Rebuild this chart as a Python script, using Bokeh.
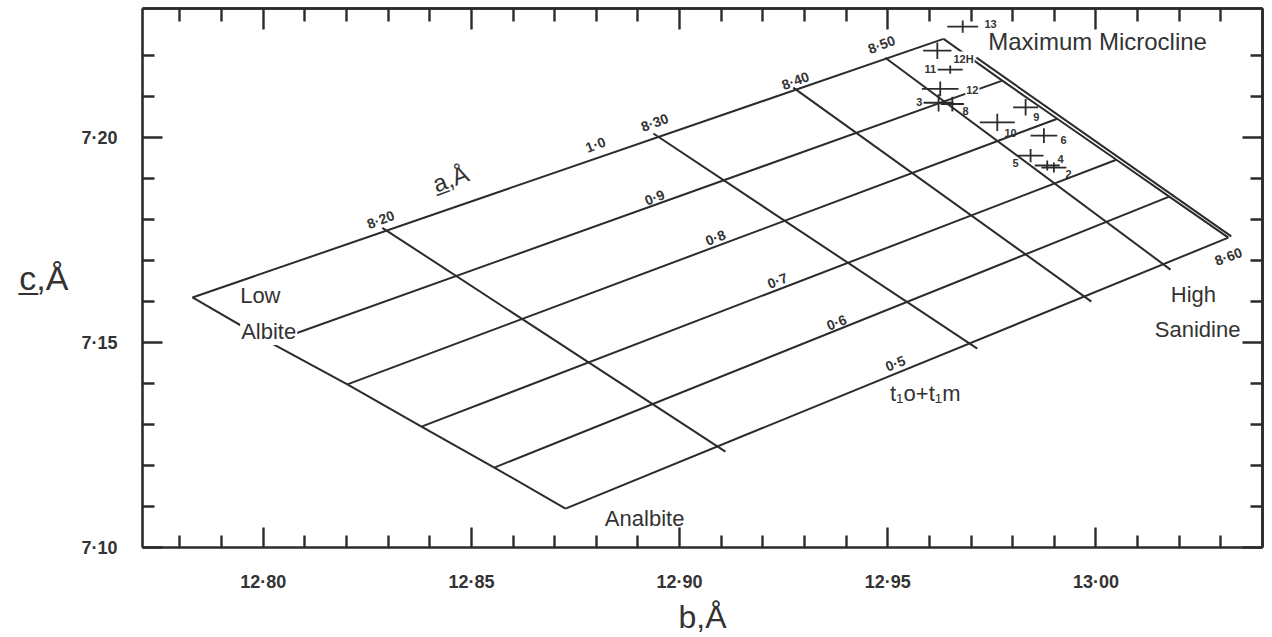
import numpy as np
from bokeh.plotting import figure
from bokeh.models import Range1d, LinearAxis, FixedTicker, Label
from bokeh.embed import file_html
from bokeh.resources import INLINE

# ---------------- axis ticks ----------------
b_major = [12.80, 12.85, 12.90, 12.95, 13.00]
b_major_text = ["12·80", "12·85", "12·90", "12·95", "13·00"]
b_minor = [12.78, 12.79, 12.81, 12.82, 12.83, 12.84, 12.86, 12.87, 12.88, 12.89,
           12.91, 12.92, 12.93, 12.94, 12.96, 12.97, 12.98, 12.99, 13.01, 13.02, 13.03]
c_major = [7.10, 7.15, 7.20]
c_major_text = ["7·10", "7·15", "7·20"]
c_minor = [7.11, 7.12, 7.13, 7.14, 7.16, 7.17, 7.18, 7.19, 7.21, 7.22]

# ---------------- lines of constant t1o+t1m (left edge -> right edge) ----------------
t_values = [1.0, 0.9, 0.8, 0.7, 0.6, 0.5]
t_b0 = [12.7830, 12.8017, 12.8202, 12.8380, 12.8555, 12.8726]
t_c0 = [7.1610, 7.1500, 7.1398, 7.1295, 7.1195, 7.1095]
t_b1 = [12.9634, 12.9775, 12.9907, 13.0049, 13.0176, 13.0318]
t_c1 = [7.2241, 7.2139, 7.2046, 7.1946, 7.1856, 7.1756]

# ---------------- lines of constant a (top -> bottom) ----------------
a_values = [8.20, 8.30, 8.40, 8.50, 8.60]
a_b0 = [12.8286, 12.8937, 12.9273, 12.9494, 12.9713]
a_c0 = [7.1780, 7.2010, 7.2122, 7.2195, 7.2195]
a_b1 = [12.9110, 12.9715, 12.9989, 13.0179, 13.0325]
a_c1 = [7.1234, 7.1485, 7.1600, 7.1678, 7.1759]

# ---------------- samples (b, c with errors) ----------------
sample = ["13", "12H", "11", "12", "3", "8", "9", "10", "6", "5", "4", "2"]
sample_b = [12.9680, 12.9619, 12.9650, 12.9626, 12.9622, 12.9655, 12.9831, 12.9763,
            12.9875, 12.9843, 12.9883, 12.9899]
sample_c = [7.2271, 7.2212, 7.2166, 7.2119, 7.2085, 7.2082, 7.2074, 7.2037,
            7.2005, 7.1956, 7.1932, 7.1927]
sample_b_err = [0.0037, 0.0034, 0.0030, 0.0044, 0.0036, 0.0028, 0.0030, 0.0042,
                0.0032, 0.0031, 0.0030, 0.0030]
sample_c_err = [0.0015, 0.0020, 0.0010, 0.0018, 0.0021, 0.0018, 0.0020, 0.0021,
                0.0018, 0.0016, 0.0012, 0.0012]

INK = "#2b2b2b"
TXT = "#333333"
FONT = "Liberation Sans"

p = figure(frame_width=1120, frame_height=539,
           x_range=Range1d(12.771, 13.040), y_range=Range1d(7.10, 7.2315),
           output_backend="svg", toolbar_location=None,
           min_border_left=142, min_border_right=4, min_border_top=8, min_border_bottom=86)
p.grid.visible = False
p.outline_line_color = None
p.background_fill_color = "white"
p.border_fill_color = "white"


def style(ax, ticks, minor, texts):
    ax.ticker = FixedTicker(ticks=ticks, minor_ticks=minor)
    ax.axis_line_width = 2.6
    ax.axis_line_color = INK
    ax.major_tick_in = 20
    ax.major_tick_out = 0
    ax.minor_tick_in = 12
    ax.minor_tick_out = 0
    ax.major_tick_line_width = 2.4
    ax.minor_tick_line_width = 2.4
    ax.major_tick_line_color = INK
    ax.minor_tick_line_color = INK
    ax.major_label_overrides = {v: t for v, t in zip(ticks, texts)}
    ax.major_label_text_font = FONT
    ax.major_label_text_font_style = "bold"
    ax.major_label_text_font_size = "18px"
    ax.major_label_text_color = TXT
    ax.axis_label_text_font = FONT
    ax.axis_label_text_font_style = "normal"
    ax.axis_label_text_font_size = "32px"
    ax.axis_label_text_color = TXT


xax = p.below[0]
yax = p.left[0]
style(xax, b_major, b_minor, b_major_text)
style(yax, c_major, c_minor, c_major_text)
xax.major_label_standoff = 24
yax.major_label_standoff = 25
xax.axis_label = "b,Å"
xax.axis_label_standoff = 4
yax.axis_label = "c̲,Å"
yax.axis_label_text_font_size = "34px"
yax.axis_label_standoff = 10
try:
    yax.axis_label_orientation = "horizontal"
except Exception:
    pass


# top and right frame ticks (no labels)
def frame_axis(side, ticks, length):
    ax = LinearAxis(ticker=FixedTicker(ticks=[], minor_ticks=ticks))
    ax.axis_line_width = 2.6
    ax.axis_line_color = INK
    ax.major_tick_in = 0
    ax.major_tick_out = 0
    ax.minor_tick_in = length
    ax.minor_tick_out = 0
    ax.minor_tick_line_width = 2.4
    ax.minor_tick_line_color = INK
    ax.major_label_standoff = 0
    p.add_layout(ax, side)


frame_axis("above", b_minor, 13)
frame_axis("above", b_major, 21)
frame_axis("right", c_minor, 12)
frame_axis("right", c_major, 20)

# ---------------- diagram ----------------
LW = 2.0
p.segment(x0=t_b0, y0=t_c0, x1=t_b1, y1=t_c1, line_color=INK, line_width=LW)
p.line(t_b0, t_c0, line_color=INK, line_width=LW)          # low albite - analbite edge
p.line(t_b1, t_c1, line_color=INK, line_width=LW)          # microcline - sanidine edge
p.segment(x0=a_b0, y0=a_c0, x1=a_b1, y1=a_c1, line_color=INK, line_width=LW)

# sample crosses
sb = np.array(sample_b)
sc = np.array(sample_c)
db = np.array(sample_b_err)
dc = np.array(sample_c_err)
p.segment(x0=sb - db, y0=sc, x1=sb + db, y1=sc, line_color=INK, line_width=1.8)
p.segment(x0=sb, y0=sc - dc, x1=sb, y1=sc + dc, line_color=INK, line_width=1.8)


def lab(x, y, text, size, style="normal", angle=0.0, bg=None, align="center",
        baseline="middle", color=TXT):
    kw = {}
    if bg:
        kw = dict(background_fill_color=bg, padding=1)
    p.add_layout(Label(x=x, y=y, text=text, text_font=FONT, text_font_size=size,
                       text_font_style=style, text_color=color, angle=angle,
                       text_align=align, text_baseline=baseline, **kw))


# region names
lab(12.7993, 7.1615, "Low", "22px")
lab(12.8013, 7.1527, "Albite", "22px", bg="white")
lab(12.8916, 7.1071, "Analbite", "22px")
lab(13.0234, 7.1617, "High", "22px")
lab(13.0244, 7.1532, "Sanidine", "22px")
lab(13.0004, 7.2234, "Maximum Microcline", "24px")
lab(12.9590, 7.1376, "t₁o+t₁m", "22px")
lab(12.8450, 7.1900, "a̲,Å", "24px", angle=0.35)

# a labels
a_lab_pos = [(12.8282, 7.1800), (12.8940, 7.2037), (12.9278, 7.2139),
             (12.9485, 7.2227), (13.0318, 7.1710)]
for v, (x, y) in zip(a_values, a_lab_pos):
    lab(x, y, f"{v:.2f}".replace(".", "·"), "14px", "bold", angle=0.36)

# t labels
t_lab_pos = [(12.8798, 7.1983), (12.8940, 7.1854), (12.9086, 7.1756),
             (12.9235, 7.1651), (12.9377, 7.1549), (12.9518, 7.1449)]
for v, (x, y) in zip(t_values, t_lab_pos):
    lab(x, y, f"{v:.1f}".replace(".", "·"), "14px", "bold", angle=0.37)

# sample labels
s_lab_pos = {"13": (12.9747, 7.2278), "12H": (12.9682, 7.2193), "11": (12.9602, 7.2168),
             "12": (12.9703, 7.2117), "3": (12.9576, 7.2088), "8": (12.9687, 7.2066),
             "9": (12.9857, 7.2051), "10": (12.9795, 7.2012), "6": (12.9922, 7.1995),
             "5": (12.9807, 7.1937), "4": (12.9915, 7.1949), "2": (12.9934, 7.1912)}
for name in sample:
    x, y = s_lab_pos[name]
    lab(x, y, name, "11px", "bold", bg="white" if name in ("12", "12H") else None)

open("out.html", "w").write(file_html(p, INLINE))
